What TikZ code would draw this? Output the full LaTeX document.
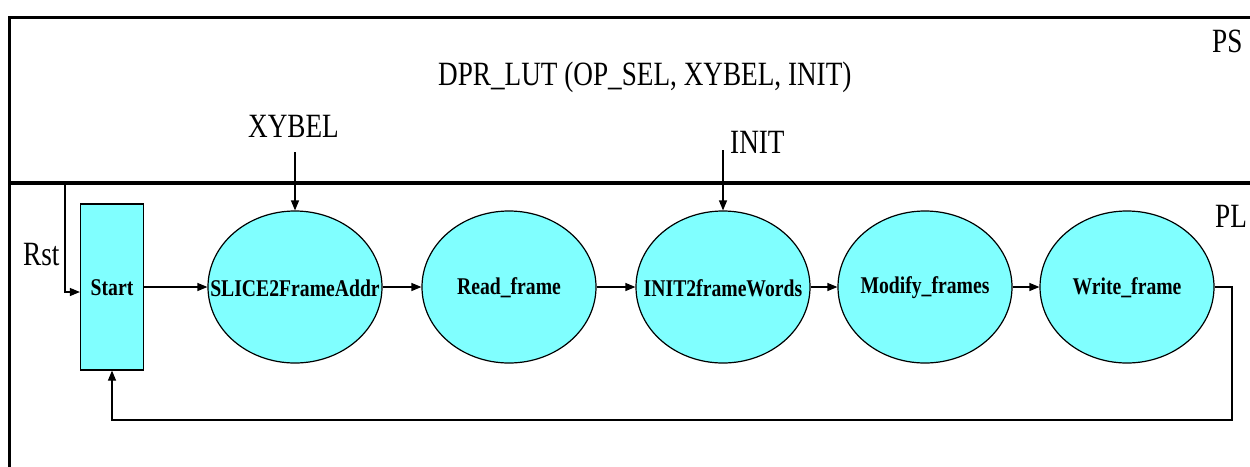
\documentclass[tikz,border=0pt]{standalone}
\usepackage{fontspec}
\usepackage{graphicx}
\setmainfont{Liberation Serif}
\newcommand{\cnd}[1]{\scalebox{0.80}[1]{#1}}
\newcommand{\cndb}[1]{\scalebox{0.82}[1]{\bfseries #1}}
\usetikzlibrary{shapes.geometric,arrows.meta}
\definecolor{statefill}{HTML}{80FFFF}
\begin{document}
\begin{tikzpicture}[x=1pt,y=-1pt,
  bigtext/.style={inner sep=0pt,anchor=base west,font=\rmfamily\fontsize{34}{40}\selectfont},
  lbl/.style={inner sep=0pt,font=\rmfamily\bfseries\fontsize{24}{28}\selectfont},
  state/.style={ellipse,draw=black,line width=1.2pt,fill=statefill,minimum width=174pt,minimum height=152pt,inner sep=0pt},
  startbox/.style={rectangle,draw=black,line width=1.2pt,fill=statefill,minimum width=63pt,minimum height=166pt,inner sep=0pt},
  conn/.style={line width=1.2pt,-{Triangle[length=10pt,width=8pt]}}]
\useasboundingbox (0,0) rectangle (1250,466);
% frame
\draw[line width=3pt] (1255,17) -- (9,17) -- (9,470);
\draw[line width=4pt] (9,183) -- (1255,183);
% texts
\node[bigtext] (title) at (438,85) {\cnd{DPR\_LUT (OP\_SEL, XYBEL, INIT)}};
\node[bigtext] (ps) at (1212,52) {\cnd{PS}};
\node[bigtext] (pl) at (1215,227) {\cnd{PL}};
\node[bigtext] (xybel) at (248,137) {\cnd{XYBEL}};
\node[bigtext] (init) at (730,153) {\cnd{INIT}};
\node[bigtext] (rst) at (23,265) {\cnd{Rst}};
% states
\node[startbox] (start) at (112,287) {};
\node[lbl] (startlbl) at (112,288) {\cndb{Start}};
\node[state] (s1) at (295,287) {};
\node[lbl] (s1lbl) at (295,288) {\cndb{SLICE2FrameAddr}};
\node[state] (s2) at (509,287) {};
\node[lbl] (s2lbl) at (509,288) {\cndb{Read\_frame}};
\node[state] (s3) at (723,287) {};
\node[lbl] (s3lbl) at (723,288) {\cndb{INIT2frameWords}};
\node[state] (s4) at (925,287) {};
\node[lbl] (s4lbl) at (925,288) {\cndb{Modify\_frames}};
\node[state] (s5) at (1127,287) {};
\node[lbl] (s5lbl) at (1127,288) {\cndb{Write\_frame}};
% coordinates
\coordinate (rsttop) at (65,183);
\coordinate (xyin) at (295,152);
\coordinate (initin) at (723,150);
\coordinate (fbright) at (1232,420);
\coordinate (fbleft) at (112,420);
% connectors
\draw[conn] (rsttop) |- ([yshift=-5pt]start.west);
\draw[conn] (xyin) -- (s1.north);
\draw[conn] (initin) -- (s3.north);
\draw[conn] (start.east) -- (s1.west);
\draw[conn] (s1.east) -- (s2.west);
\draw[conn] (s2.east) -- (s3.west);
\draw[conn] (s3.east) -- (s4.west);
\draw[conn] (s4.east) -- (s5.west);
\draw[conn] (s5.east) -| (fbright) -- (fbleft) -- (start.south);
\end{tikzpicture}
\end{document}
